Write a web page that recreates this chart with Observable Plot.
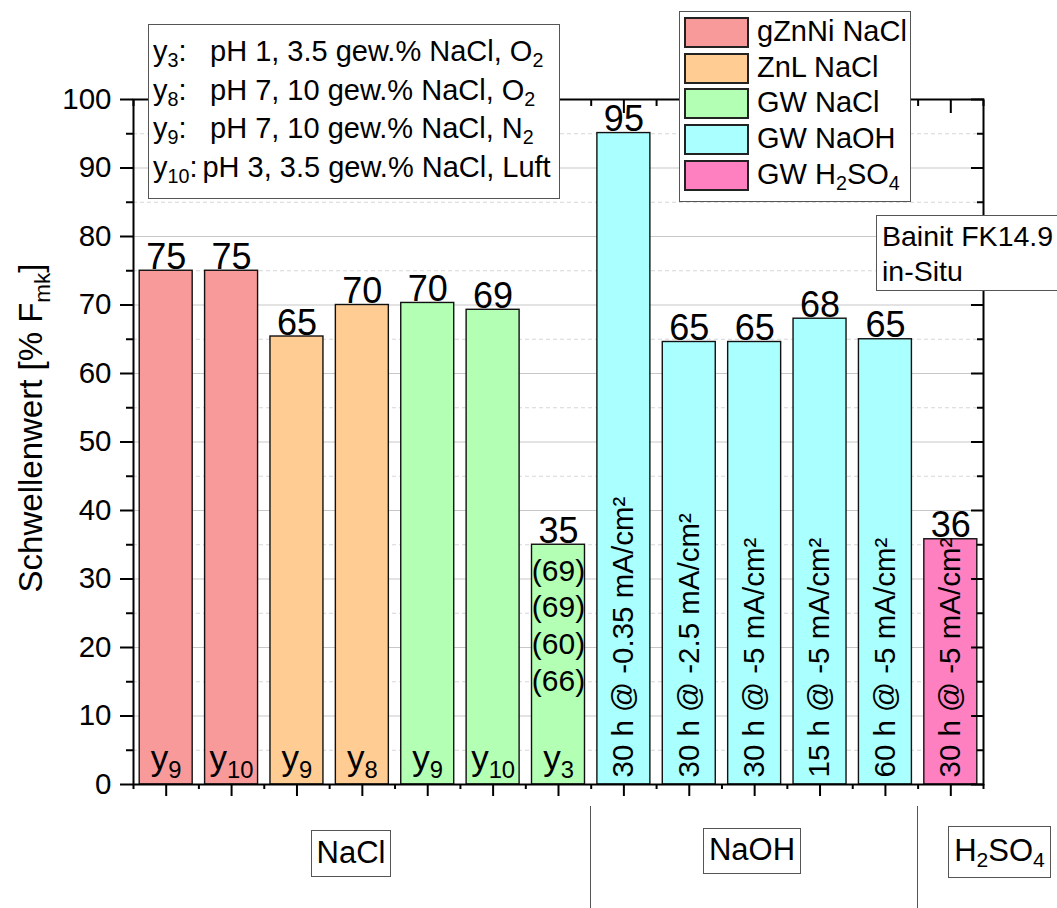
<!DOCTYPE html>
<html><head><meta charset="utf-8">
<script src="https://cdn.jsdelivr.net/npm/d3@7"></script>
<script src="https://cdn.jsdelivr.net/npm/@observablehq/plot@0.6"></script>
<style>
body{margin:0;background:#fff;font-family:"Liberation Sans",Arial,sans-serif;}
#wrap{position:relative;width:1057px;height:908px;overflow:hidden;}
.box{position:absolute;background:#fff;border:1.5px solid #555;box-sizing:border-box;color:#000;}
sub{font-size:0.68em;vertical-align:-0.28em;line-height:0;}
</style></head><body><div id="wrap"></div><script>
// ---- data ----
const series = ["gZnNi NaCl","ZnL NaCl","GW NaCl","GW NaOH","GW H_{2}SO_{4}"];
const colors = ["#F89A9A","#FFCC93","#B3FFB3","#AAFFFF","#FF80C0"];
const barSeries = [0,0,1,1,2,2,2,3,3,3,3,3,4];
const values = [75,75,65.4,70,70.3,69.3,35,95.1,64.6,64.6,68,65,35.8];
const valueLabels = ["75","75","65","70","70","69","35","95","65","65","68","65","36"];
const innerLabels = ["y_{9}","y_{10}","y_{9}","y_{8}","y_{9}","y_{10}","y_{3}","","","","","",""];
const rotLabels = ["","","","","","","","30 h @ -0.35 mA/cm²","30 h @ -2.5 mA/cm²","30 h @ -5 mA/cm²","15 h @ -5 mA/cm²","60 h @ -5 mA/cm²","30 h @ -5 mA/cm²"];
const extraBar = 6;
const extraLabels = ["(69)","(69)","(60)","(66)"];
const groups = ["NaCl","NaOH","H_{2}SO_{4}"];
const groupBreaks = [7,12];
const condKeys = ["3","8","9","10"];
const condTexts = ["pH 1, 3.5 gew.% NaCl, O_{2}","pH 7, 10 gew.% NaCl, O_{2}","pH 7, 10 gew.% NaCl, N_{2}","pH 3, 3.5 gew.% NaCl, Luft"];
const yTicks = d3.range(0,101,10);
const yMinor = d3.range(5,100,10);
const yTitle = "Schwellenwert [% F_{mk}]";
const noteLines = ["Bainit FK14.9","in-Situ"];

const rows = values.map((v,i)=>({i, v, s: series[barSeries[i]], lab: valueLabels[i], inner: innerLabels[i], rot: rotLabels[i]}));
const centers = rows.map(d=>d.i+0.5);
const bounds = d3.range(0, rows.length+1);
const font = "Liberation Sans, Arial, sans-serif";

const chart = Plot.plot({
  width: 1057, height: 908,
  marginLeft: 133, marginRight: 74, marginTop: 99, marginBottom: 124,
  style: {fontFamily: font, background: "white", overflow: "visible", color: "black"},
  x: {domain: [0, rows.length]},
  y: {domain: [0, 100]},
  color: {domain: series, range: colors},
  marks: [
    Plot.ruleY(yTicks.slice(1,-1), {stroke: "#c8c8c8", strokeWidth: 1.2}),
    Plot.ruleY(yMinor, {stroke: "#d6d6d6", strokeWidth: 1, strokeDasharray: "4,3"}),
    Plot.rectY(rows, {x1: "i", x2: d=>d.i+1, y: "v", fill: "s", stroke: "#111", strokeWidth: 1.4, insetLeft: 6.2, insetRight: 6.2}),
    Plot.text(rows, {x: d=>d.i+0.5, y: "v", text: "lab", lineAnchor: "bottom", dy: -2, fontSize: 36, fill: "black"}),
    Plot.text(rows.filter(d=>d.inner), {x: d=>d.i+0.5, y: 0, text: "inner", lineAnchor: "bottom", dy: -15, fontSize: 35, fill: "black"}),
    Plot.text(rows.filter(d=>d.rot), {x: d=>d.i+0.5, y: 0, text: "rot", rotate: -90, textAnchor: "start", lineAnchor: "middle", dy: -7, fontSize: 29.5, fill: "black"}),
    Plot.text([extraLabels.join("\n")], {x: extraBar+0.5, y: values[extraBar], text: d=>d, lineAnchor: "top", dy: 10, lineHeight: 1.22, fontSize: 30, fill: "black"}),
    Plot.frame({stroke: "black", strokeWidth: 2}),
    Plot.axisY(yTicks, {tickSize: 13, tickPadding: 9, fontSize: 29.5, label: null, strokeWidth: 2}),
    Plot.axisY(yMinor, {tickSize: 7, tickFormat: () => "", label: null, strokeWidth: 2}),
    Plot.axisY(yTicks, {anchor: "right", tickSize: -13, tickFormat: () => "", label: null, strokeWidth: 2}),
    Plot.axisY(yMinor, {anchor: "right", tickSize: -7, tickFormat: () => "", label: null, strokeWidth: 2}),
    Plot.axisX(centers, {tickSize: 12, tickFormat: () => "", label: null, strokeWidth: 2}),
    Plot.axisX(bounds, {tickSize: 5, tickFormat: () => "", label: null, strokeWidth: 2}),
    Plot.axisX(centers, {anchor: "top", tickSize: -13, tickFormat: () => "", label: null, strokeWidth: 2}),
    Plot.axisX(bounds, {anchor: "top", tickSize: -6, tickFormat: () => "", label: null, strokeWidth: 2}),
    Plot.text([yTitle], {frameAnchor: "left", text: d=>d, rotate: -90, textAnchor: "middle", lineAnchor: "middle", dx: -102, dy: -14, fontSize: 33, fill: "black"})
  ]
});

// convert _{..} to subscript tspans
function subify(el){
  const s = el.textContent;
  if (!/_\{/.test(s)) return;
  el.textContent = "";
  const re = /_\{([^}]*)\}/g;
  let last = 0, m, shifted = false;
  const add = (t, sub) => {
    if (!t) return;
    const ts = document.createElementNS("http://www.w3.org/2000/svg","tspan");
    ts.textContent = t;
    if (sub) { ts.setAttribute("font-size","68%"); ts.setAttribute("dy", shifted ? "0" : "0.36em"); shifted = true; }
    else if (shifted) { ts.setAttribute("dy","-0.245em"); shifted = false; }
    el.appendChild(ts);
  };
  while ((m = re.exec(s))) { add(s.slice(last, m.index), false); add(m[1], true); last = re.lastIndex; }
  add(s.slice(last), false);
}
chart.querySelectorAll("text").forEach(t => { if (!t.querySelector("tspan")) subify(t); });

const wrap = document.getElementById("wrap");
wrap.appendChild(chart);
const html = s => s.replace(/_\{([^}]*)\}/g, "<sub>$1</sub>");
const xs = chart.scale("x");

// legend
const leg = document.createElement("div");
leg.className = "box";
Object.assign(leg.style, {left:"679px", top:"11px", width:"232px", height:"191px"});
leg.innerHTML = series.map((s,k)=>`<div style="position:absolute;left:4px;top:${5+k*35.7}px;width:65px;height:31px;background:${colors[k]};border:2px solid #222;box-sizing:border-box"></div><div style="position:absolute;left:77px;top:${k*35.7-1}px;font-size:29px;line-height:40px;white-space:nowrap">${html(s)}</div>`).join("");
wrap.appendChild(leg);

// conditions box
const cond = document.createElement("div");
cond.className = "box";
Object.assign(cond.style, {left:"148px", top:"24px", width:"412px", height:"175px", padding:"7px 0 0 4px", fontSize:"29px", lineHeight:"38.5px"});
cond.innerHTML = condKeys.map((k,i)=>`<div style="white-space:nowrap"><span style="display:inline-block;${k.length<2?"width:57px":"padding-right:5px"}">y<sub>${k}</sub>:</span>${html(condTexts[i])}</div>`).join("");
wrap.appendChild(cond);

// note box
const note = document.createElement("div");
note.className = "box";
Object.assign(note.style, {left:"876px", top:"215px", width:"200px", height:"76px", padding:"3px 0 0 5px", fontSize:"28.5px", lineHeight:"35px", borderWidth:"1px"});
note.innerHTML = noteLines.map(l=>`<div style="white-space:nowrap">${l}</div>`).join("");
wrap.appendChild(note);

// group separators
groupBreaks.forEach(b => {
  const d = document.createElement("div");
  Object.assign(d.style, {position:"absolute", left:(xs.apply(b)-0.75)+"px", top:"806px", width:"1.5px", height:"102px", background:"#555"});
  wrap.appendChild(d);
});
// group labels
const gpos = [[311,830,80,47],[703,828,98,46],[948,826,103,52]];
groups.forEach((g,i)=>{
  const d = document.createElement("div");
  d.className = "box";
  const [l,t,w,h] = gpos[i];
  Object.assign(d.style, {left:l+"px", top:t+"px", width:w+"px", height:h+"px", fontSize:"31px", lineHeight:(h-4)+"px", textAlign:"center", borderWidth:"1px", whiteSpace:"nowrap"});
  d.innerHTML = html(g);
  wrap.appendChild(d);
});
</script></body></html>
